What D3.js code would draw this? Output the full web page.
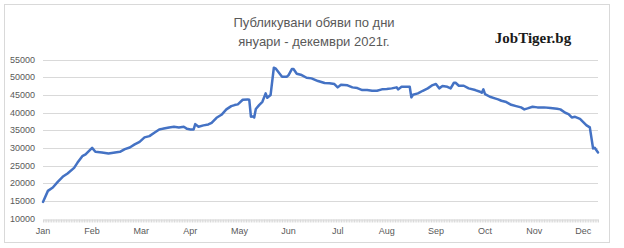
<!DOCTYPE html>
<html>
<head>
<meta charset="utf-8">
<script src="https://cdn.jsdelivr.net/npm/d3@7"></script>
<style>
  html, body { margin: 0; padding: 0; background: #fff; }
  svg { display: block; }
</style>
</head>
<body>
<div id="chart"></div>
<script>
const titleLines = ['Публикувани обяви по дни', 'януари - декември 2021г.'];
const brand = 'JobTiger.bg';
const monthLabels = ['Jan', 'Feb', 'Mar', 'Apr', 'May', 'Jun', 'Jul', 'Aug', 'Sep', 'Oct', 'Nov', 'Dec'];
const daysPerLabel = 30;
const dayCount = 340;
const yTicks = [10000, 15000, 20000, 25000, 30000, 35000, 40000, 45000, 50000, 55000];

// day index (category position) and number of published ads
const dayIndex = [
  0, 3, 6, 9, 12, 15, 19, 21, 24, 26, 30, 32, 36, 40, 44, 47, 50, 53, 56, 59,
  62, 65, 68, 71, 73, 77, 80, 83, 86, 88, 90, 92, 93, 95, 98, 101, 103, 106, 109, 112,
  115, 117, 119, 122, 125, 126, 127, 128, 129, 130, 132, 134, 136, 137, 139, 141, 142, 146, 149, 150,
  152, 153, 155, 158, 161, 164, 168, 172, 175, 178, 180, 182, 186, 189, 192, 195, 198, 201, 204, 207,
  210, 213, 216, 217, 219, 224, 225, 226, 229, 232, 235, 238, 240, 242, 244, 247, 249, 251, 252, 254,
  257, 260, 264, 267, 268, 269, 270, 273, 276, 278, 280, 283, 286, 289, 292, 294, 296, 299, 302, 306,
  310, 314, 316, 319, 321, 323, 325, 328, 330, 332, 334, 336, 337, 339
];
const postings = [
  14700, 17820, 18780, 20370, 21790, 22750, 24340, 25750, 27650, 28130, 30000, 28870, 28700, 28410, 28700, 28870, 29630, 30110, 30960, 31700,
  32950, 33320, 34250, 35210, 35380, 35780, 35950, 35780, 35950, 35380, 35210, 35210, 36710, 35950, 36350, 36630, 37080, 38500, 39350, 40880,
  41810, 42100, 42300, 43600, 43710, 43600, 38800, 38900, 38600, 41000, 42100, 43030, 45410, 44170, 44930, 52670, 52500, 50120, 50120, 50600,
  52300, 52300, 50970, 50600, 49830, 49660, 48900, 48330, 48300, 48050, 47110, 47850, 47680, 47110, 46910, 46350, 46350, 46150, 46150, 46550,
  46630, 46830, 47110, 46550, 47280, 47280, 44280, 45020, 45410, 46150, 46830, 47760, 48050, 46830, 47480, 47280, 46830, 48420, 48420, 47570,
  47570, 46830, 46350, 45870, 45580, 46550, 45210, 44450, 44000, 43710, 43320, 42950, 42180, 41810, 41450, 40880, 41160, 41620, 41450, 41450,
  41250, 41050, 40880, 39920, 39550, 38610, 38780, 38220, 37280, 36350, 35780, 29830, 30000, 28700
];

const width = 624, height = 248;
const plot = { left: 43, right: 598, top: 59.5, bottom: 218.5 };
const labelFont = '"Liberation Sans", Arial, sans-serif';
const labelColor = '#595959';
const gridColor = '#d9d9d9';

const data = dayIndex.map((d, i) => ({ day: d, value: postings[i] }));

const svg = d3.select('#chart')
  .append('svg')
  .attr('width', width)
  .attr('height', height);

// chart frame
svg.append('rect')
  .attr('x', 4.5).attr('y', 4.5)
  .attr('width', 605).attr('height', 238)
  .style('fill', '#fff')
  .style('stroke', gridColor)
  .style('stroke-width', '1px');

const x = d3.scaleLinear().domain([0, dayCount - 1]).range([plot.left, plot.right]);
const y = d3.scaleLinear().domain([10000, 55000]).range([plot.bottom, plot.top]);

// horizontal gridlines
svg.append('g')
  .selectAll('line')
  .data(yTicks.slice(1))
  .enter()
  .append('line')
  .attr('x1', plot.left).attr('x2', plot.right)
  .attr('y1', d => Math.round(y(d)) + 0.5)
  .attr('y2', d => Math.round(y(d)) + 0.5)
  .style('stroke', gridColor)
  .style('stroke-width', '1px');

// y labels
svg.append('g')
  .selectAll('text')
  .data(yTicks)
  .enter()
  .append('text')
  .attr('x', 35)
  .attr('y', d => y(d))
  .attr('dy', '0.35em')
  .attr('text-anchor', 'end')
  .text(d => d)
  .style('font-family', labelFont)
  .style('font-size', '9px')
  .style('fill', labelColor);

// x axis with a small tick for every day
const xAxis = svg.append('g')
  .attr('transform', `translate(0,${Math.round(plot.bottom) + 0.5})`)
  .call(d3.axisBottom(x).tickValues(d3.range(0, dayCount)).tickSize(3).tickSizeOuter(0).tickFormat(''));
xAxis.select('.domain').style('stroke', gridColor);
xAxis.selectAll('.tick line').style('stroke', gridColor);

// month labels
svg.append('g')
  .selectAll('text')
  .data(monthLabels)
  .enter()
  .append('text')
  .attr('x', (d, i) => x(i * daysPerLabel))
  .attr('y', 234)
  .attr('text-anchor', 'middle')
  .text(d => d)
  .style('font-family', labelFont)
  .style('font-size', '9px')
  .style('fill', labelColor);

// the series
svg.append('path')
  .datum(data)
  .attr('d', d3.line().x(d => x(d.day)).y(d => y(d.value)))
  .style('fill', 'none')
  .style('stroke', '#4472c4')
  .style('stroke-width', '2.5px')
  .style('stroke-linejoin', 'round')
  .style('stroke-linecap', 'round');

// title
svg.append('text')
  .attr('x', 314)
  .attr('y', 27)
  .attr('text-anchor', 'middle')
  .style('font-family', labelFont)
  .style('font-size', '13px')
  .style('fill', labelColor)
  .selectAll('tspan')
  .data(titleLines)
  .enter()
  .append('tspan')
  .attr('x', 314)
  .attr('dy', (d, i) => i ? 19 : 0)
  .text(d => d);

svg.append('text')
  .attr('x', 533)
  .attr('y', 43)
  .attr('text-anchor', 'middle')
  .text(brand)
  .style('font-family', '"Liberation Serif", "Times New Roman", serif')
  .style('font-weight', 'bold')
  .style('font-size', '15px')
  .style('fill', '#1a1a1a');
</script>
</body>
</html>
